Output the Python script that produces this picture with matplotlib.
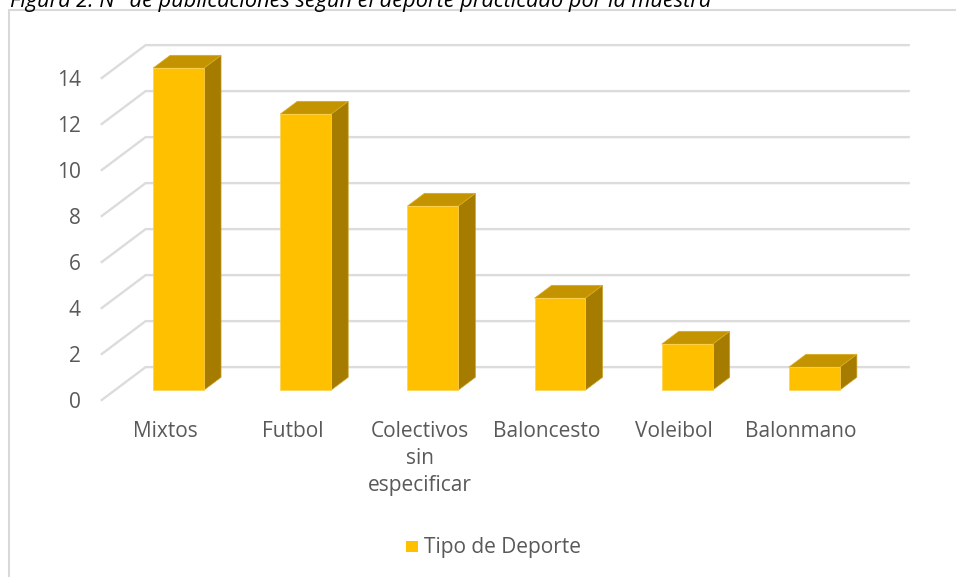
import matplotlib
matplotlib.use("Agg")
import matplotlib.pyplot as plt
from matplotlib.patches import Polygon, Rectangle

categorias = ["Mixtos", "Futbol", "Colectivos\nsin\nespecificar", "Baloncesto", "Voleibol", "Balonmano"]
valores = [14, 12, 8, 4, 2, 1]
yticks = [0, 2, 4, 6, 8, 10, 12, 14]
titulo = "Figura 2. N° de publicaciones según el deporte practicado por la muestra"
serie = "Tipo de Deporte"

W, H = 956, 577
plt.rcParams["font.family"] = ["Open Sans", "DejaVu Sans"]
TXT = "#595959"
GRID = "#dcdcdc"
FRONT, TOP, SIDE = "#ffc000", "#c49400", "#a67c00"

# oblique projection of the 3d box: depth 0..1 moves right and up
DX, DY = 0.345, 1.43
D0, D1 = 0.30, 0.69
BW = 0.40


def proj(x, y, d):
    return x + DX * d, y + DY * d


fig = plt.figure(figsize=(W / 100, H / 100), dpi=100)
fig.patch.set_facecolor("white")
fig.add_artist(Rectangle((8.5 / W, -0.1), 1.2, 1.1 - 10 / H, transform=fig.transFigure,
                         fill=False, ec="#d9d9d9", lw=1.5))
fig.text(10 / W, 1 - 2 / H, titulo, style="italic", fontsize=15.7, color="black", va="center", ha="left")

ax = fig.add_axes([101.75 / W, 1 - 400 / H, 763 / W, 322 / H])
ax.set_xlim(-0.5, len(categorias) - 0.5)
ax.set_ylim(0, 14)
for s in ax.spines.values():
    s.set_visible(False)
ax.patch.set_alpha(0)

# grid: side wall + back wall
for v in yticks:
    xa, ya = proj(-0.5, v, 0)
    xb, yb = proj(-0.5, v, 1)
    xc, yc = proj(len(categorias) - 0.5, v, 1)
    ax.plot([xa, xb, xc], [ya, yb, yc], color=GRID, lw=1.7, clip_on=False, zorder=1,
            solid_joinstyle="miter")

for i, v in enumerate(valores):
    l, r = i - BW / 2, i + BW / 2
    front = [proj(l, 0, D0), proj(r, 0, D0), proj(r, v, D0), proj(l, v, D0)]
    top = [proj(l, v, D0), proj(r, v, D0), proj(r, v, D1), proj(l, v, D1)]
    side = [proj(r, 0, D0), proj(r, 0, D1), proj(r, v, D1), proj(r, v, D0)]
    ax.add_patch(Polygon(side, fc=SIDE, ec="#c9a227", lw=0.5, clip_on=False, zorder=3))
    ax.add_patch(Polygon(top, fc=TOP, ec="#d9ad20", lw=0.5, clip_on=False, zorder=3))
    ax.add_patch(Polygon(front, fc=FRONT, ec="#ffd24d", lw=0.5, clip_on=False, zorder=4))

ax.set_yticks(yticks)
ax.set_xticks(range(len(categorias)))
ax.set_xticklabels(categorias, linespacing=1.38)
ax.tick_params(axis="both", length=0, labelsize=15, labelcolor=TXT)
ax.tick_params(axis="x", pad=15)
ax.tick_params(axis="y", pad=15)

fig.add_artist(Rectangle((406 / W, 1 - 552 / H), 12 / W, 11 / H, transform=fig.transFigure, fc=FRONT, ec="none"))
fig.text(424 / W, 1 - 548 / H, serie, fontsize=15, color=TXT, va="center", ha="left")

fig.savefig("out.png", dpi=100)
